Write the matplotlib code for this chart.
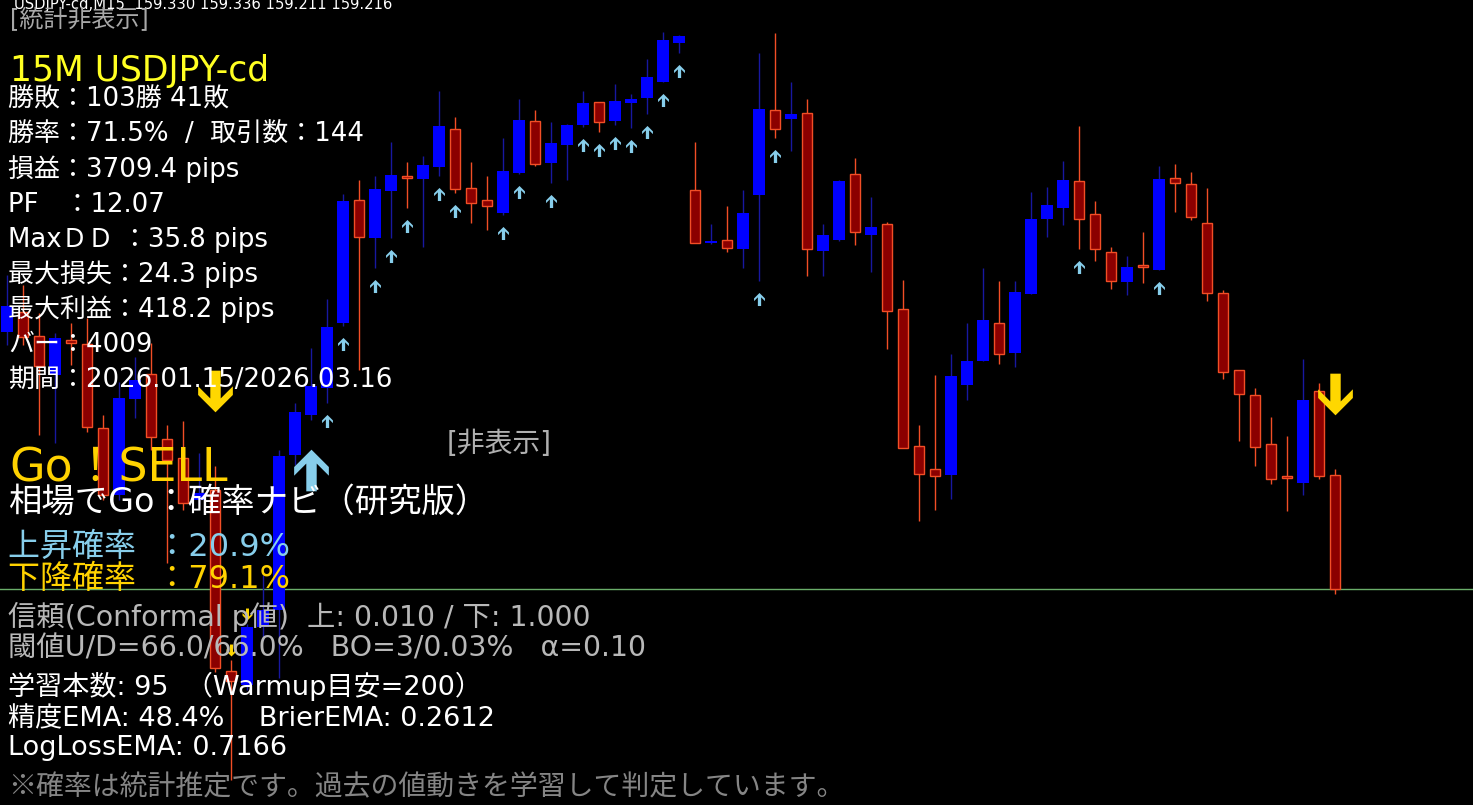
import matplotlib
matplotlib.use("Agg")
import matplotlib.pyplot as plt
import numpy as np
from matplotlib.path import Path

# ---- USDJPY-cd M15 bars (oldest -> newest) ----
opens = [159.473, 159.493, 159.469, 159.430, 159.465, 159.461, 159.377, 159.310, 159.406, 159.431,
         159.366, 159.347, 159.305, 159.315, 159.134, 159.120, 159.178, 159.195, 159.350, 159.390,
         159.417, 159.482, 159.605, 159.567, 159.614, 159.629, 159.626, 159.638, 159.676, 159.617,
         159.605, 159.592, 159.632, 159.684, 159.642, 159.660, 159.680, 159.703, 159.684, 159.702,
         159.707, 159.723, 159.762, 159.615, 159.562, 159.565, 159.556, 159.610, 159.695, 159.686,
         159.692, 159.554, 159.565, 159.631, 159.570, 159.581, 159.496, 159.359, 159.336, 159.330,
         159.420, 159.444, 159.482, 159.452, 159.511, 159.586, 159.597, 159.624, 159.591, 159.553,
         159.523, 159.540, 159.535, 159.627, 159.621, 159.582, 159.512, 159.435, 159.410, 159.361,
         159.329, 159.322, 159.414, 159.330]
highs = [159.530, 159.520, 159.492, 159.472, 159.482, 159.487, 159.390, 159.423, 159.448, 159.462,
         159.380, 159.384, 159.352, 159.339, 159.145, 159.181, 159.230, 159.355, 159.402, 159.457,
         159.506, 159.611, 159.625, 159.629, 159.663, 159.643, 159.649, 159.714, 159.688, 159.643,
         159.629, 159.667, 159.706, 159.695, 159.683, 159.681, 159.714, 159.703, 159.721, 159.711,
         159.746, 159.773, 159.770, 159.663, 159.581, 159.599, 159.615, 159.752, 159.772, 159.723,
         159.706, 159.581, 159.625, 159.647, 159.608, 159.583, 159.525, 159.380, 159.430, 159.451,
         159.482, 159.537, 159.524, 159.524, 159.613, 159.618, 159.644, 159.679, 159.604, 159.558,
         159.549, 159.573, 159.639, 159.641, 159.633, 159.617, 159.515, 159.435, 159.417, 159.388,
         159.369, 159.446, 159.422, 159.336]
lows = [159.460, 159.460, 159.370, 159.362, 159.440, 159.373, 159.305, 159.305, 159.387, 159.355,
        159.242, 159.295, 159.300, 159.133, 159.025, 159.115, 159.165, 159.127, 159.340, 159.385,
        159.402, 159.479, 159.435, 159.537, 159.567, 159.597, 159.558, 159.629, 159.612, 159.582,
        159.575, 159.590, 159.631, 159.639, 159.622, 159.625, 159.678, 159.673, 159.680, 159.677,
        159.691, 159.723, 159.752, 159.562, 159.561, 159.553, 159.537, 159.524, 159.667, 159.654,
        159.529, 159.529, 159.564, 159.560, 159.533, 159.456, 159.357, 159.284, 159.295, 159.306,
        159.405, 159.444, 159.441, 159.438, 159.511, 159.568, 159.580, 159.556, 159.544, 159.516,
        159.510, 159.522, 159.535, 159.593, 159.585, 159.504, 159.426, 159.364, 159.339, 159.321,
        159.294, 159.310, 159.326, 159.211]
closes = [159.499, 159.468, 159.439, 159.467, 159.462, 159.378, 159.310, 159.407, 159.425, 159.368,
          159.345, 159.302, 159.312, 159.137, 159.124, 159.178, 159.195, 159.349, 159.393, 159.419,
          159.478, 159.604, 159.568, 159.616, 159.630, 159.627, 159.640, 159.679, 159.616, 159.602,
          159.599, 159.634, 159.685, 159.641, 159.662, 159.680, 159.702, 159.683, 159.704, 159.706,
          159.728, 159.765, 159.769, 159.562, 159.564, 159.557, 159.592, 159.696, 159.676, 159.691,
          159.556, 159.570, 159.624, 159.573, 159.578, 159.494, 159.357, 159.331, 159.329, 159.429,
          159.444, 159.485, 159.451, 159.513, 159.586, 159.600, 159.625, 159.586, 159.556, 159.524,
          159.538, 159.538, 159.626, 159.622, 159.588, 159.512, 159.433, 159.411, 159.358, 159.326,
          159.327, 159.405, 159.329, 159.216]

# signal bars (indices into the bar arrays)
buy_marks = [20, 21, 23, 24, 25, 27, 28, 31, 32, 34, 36, 37, 38, 39, 40, 41, 42, 47, 48, 67, 72]
sell_marks = [14, 15]
buy_signals = [19]
sell_signals = [13, 83]
bid_price = 159.216

header = "USDJPY-cd,M15  159.330 159.336 159.211 159.216"
stats_lines = [
    "勝敗：103勝 41敗",
    "勝率：71.5%  /  取引数：144",
    "損益：3709.4 pips",
    "PF　：12.07",
    "MaxＤＤ ：35.8 pips",
    "最大損失：24.3 pips",
    "最大利益：418.2 pips",
    "バー：4009",
    "期間：2026.01.15/2026.03.16",
]

W, H, DPI = 1473, 805, 100
LATIN_FIRST = ["DejaVu Sans", "Noto Sans CJK JP"]
CJK_FIRST = ["Noto Sans CJK JP", "DejaVu Sans"]

fig = plt.figure(figsize=(W / DPI, H / DPI), dpi=DPI, facecolor="black")
ax = fig.add_axes([0, 0, 1, 1])
ax.set_facecolor("black")
ax.set_xlim(-0.4375, 91.625)
ax.set_ylim(159.000, 159.805)
ax.axis("off")

o = np.array(opens)
h = np.array(highs)
l = np.array(lows)
c = np.array(closes)
x = np.arange(len(o))
bull = c >= o
bear = ~bull

BULL_BODY = "#0000ff"
BULL_WICK = "#1818a0"
BEAR_BODY = "#8b0000"
BEAR_LINE = "#f24e26"

ax.axhline(bid_price, color="#6aae6a", lw=1.0, zorder=1)

ax.vlines(x[bull], l[bull], h[bull], color=BULL_WICK, lw=1.0, zorder=2)
ax.vlines(x[bear], l[bear], h[bear], color=BEAR_LINE, lw=1.0, zorder=2)
ax.bar(x[bull], np.maximum(c[bull] - o[bull], 0.0015), bottom=o[bull], width=0.72,
       color=BULL_BODY, edgecolor=BULL_BODY, lw=0, zorder=3)
ax.bar(x[bear], np.maximum(o[bear] - c[bear], 0.0015), bottom=c[bear], width=0.66,
       color=BEAR_BODY, edgecolor=BEAR_LINE, lw=1.0, zorder=3)

# chevron arrow markers
up_verts = [(0, 0.6), (0.5, 0.1), (0.5, -0.15), (0.15, 0.2), (0.15, -0.6),
            (-0.15, -0.6), (-0.15, 0.2), (-0.5, -0.15), (-0.5, 0.1), (0, 0.6)]
codes = [Path.MOVETO] + [Path.LINETO] * (len(up_verts) - 2) + [Path.CLOSEPOLY]
arrow_up = Path(up_verts, codes)
arrow_down = Path([(vx, -vy) for vx, vy in up_verts], codes)

bm = np.array(buy_marks)
ax.plot(bm, l[bm] - 0.018, ls="none", marker=arrow_up, ms=9.4,
        color="#87ceeb", mec="none", zorder=4)
sm = np.array(sell_marks)
ax.plot(sm, h[sm] + 0.010, ls="none", marker=arrow_down, ms=8.6,
        color="#ffd700", mec="none", zorder=4)
bs = np.array(buy_signals)
ax.plot(bs, l[bs] - 0.050, ls="none", marker=arrow_up, ms=30,
        color="#87ceeb", mec="none", zorder=4)
ss = np.array(sell_signals)
ax.plot(ss, h[ss] + 0.075, ls="none", marker=arrow_down, ms=30,
        color="#ffd700", mec="none", zorder=4)


def put(xp, yp, s, size, color, family=LATIN_FIRST):
    fig.text(xp / W, 1 - yp / H, s, fontsize=size, color=color,
             family=family, ha="left", va="baseline", zorder=10)


put(14, 9, header, 10.6, "white")
put(10, 27, "[統計非表示]", 17.3, "#a8a8a8")
put(10, 81, "15M USDJPY-cd", 24.9, "#ffff22")
for i, line in enumerate(stats_lines):
    put(8, 107 + 35 * i, line, 18.7, "white")

put(447, 452, "[非表示]", 20, "#b0b0b0")

put(9, 481, "Go！SELL", 33, "#ffd200")
put(8, 512, "相場でGo：確率ナビ（研究版）", 24, "white")
put(8, 556, "上昇確率  ：20.9%", 23, "#87ceeb")
put(8, 588, "下降確率  ：79.1%", 23, "#ffd200")
put(8, 626, "信頼(Conformal p値)  上: 0.010 / 下: 1.000", 20.4, "#b8b8b8")
put(8, 656, "閾値U/D=66.0/66.0%   BO=3/0.03%   α=0.10", 20.4, "#b8b8b8")
put(8, 695, "学習本数: 95  （Warmup目安=200）", 19.5, "white")
put(8, 726, "精度EMA: 48.4%    BrierEMA: 0.2612", 19.5, "white")
put(8, 755, "LogLossEMA: 0.7166", 19.5, "white")
put(8, 795, "※確率は統計推定です。過去の値動きを学習して判定しています。", 20.1, "#858585",
    family=CJK_FIRST)

fig.savefig("out.png", dpi=DPI, facecolor="black")
